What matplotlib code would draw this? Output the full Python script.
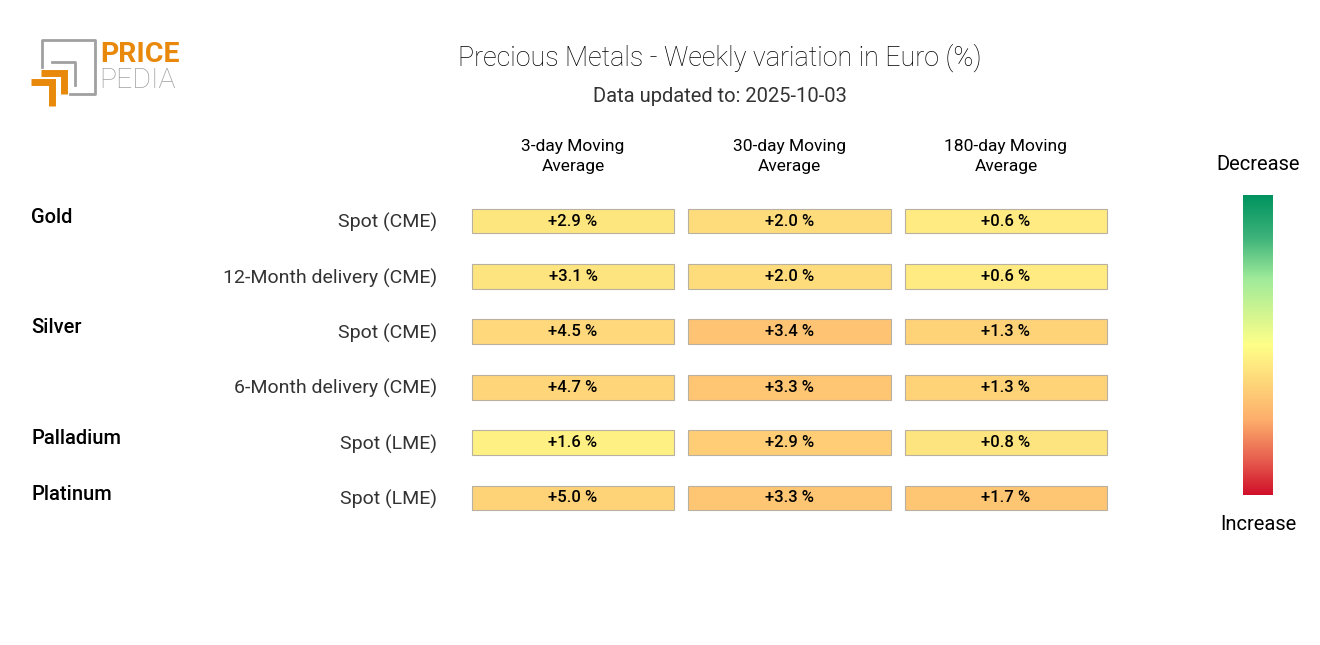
import matplotlib
matplotlib.use("Agg")
import matplotlib.pyplot as plt
import numpy as np
from matplotlib.colors import LinearSegmentedColormap
from matplotlib.patches import Rectangle

plt.rcParams['font.family'] = ['Roboto', 'DejaVu Sans']

# Data
groups = ['Gold', '', 'Silver', '', 'Palladium', 'Platinum']
series = ['Spot (CME)', '12-Month delivery (CME)', 'Spot (CME)',
          '6-Month delivery (CME)', 'Spot (LME)', 'Spot (LME)']
columns = ['3-day Moving\nAverage', '30-day Moving\nAverage', '180-day Moving\nAverage']
ma3 = [2.9, 3.1, 4.5, 4.7, 1.6, 5.0]
ma30 = [2.0, 2.0, 3.4, 3.3, 2.9, 3.3]
ma180 = [0.6, 0.6, 1.3, 1.3, 0.8, 1.7]
# colour scale limits per column (estimated)
color_limits = [18.6, 9.3, 4.8]

values = np.array([ma3, ma30, ma180]).T

# green (decrease) -> yellow -> red (increase)
cmap = LinearSegmentedColormap.from_list(
    'pp', [(0.0, '#d0102a'), (0.12, '#e86050'), (0.25, '#fdae6b'),
           (0.5, '#ffff88'), (0.72, '#a0eb9a'), (0.86, '#3db37a'),
           (1.0, '#00935f')])

fig = plt.figure(figsize=(13.2, 6.45), dpi=100)
ax = fig.add_axes([0.3521, 0.185, 0.492, 0.5153])
ax.set_xlim(-0.5, 2.5)
ax.set_ylim(5.5, -0.5)
ax.axis('off')

for i in range(values.shape[0]):
    for j in range(values.shape[1]):
        v = values[i, j]
        t = 0.5 - 0.5 * v / color_limits[j]
        ax.add_patch(Rectangle((j - 0.467, i - 0.225), 0.934, 0.45,
                               facecolor=cmap(t), edgecolor='#b8b0a0', lw=0.8))
        ax.text(j, i, f'{v:+.1f} %', ha='center', va='center',
                fontsize=12, color='black', fontweight='medium')
    ax.text(-0.628, i + 0.03, series[i], ha='right', va='center',
            fontsize=14, color='#333333', clip_on=False)
    if groups[i]:
        ax.text(-2.503, i - 0.07, groups[i], ha='left', va='center',
                fontsize=14.5, color='black', fontweight='medium', clip_on=False)

for j, c in enumerate(columns):
    ax.text(j, -1.17, c, ha='center', va='center', fontsize=12.5,
            linespacing=1.4, clip_on=False)

# titles
fig.text(720 / 1320, 1 - 58 / 645, 'Precious Metals - Weekly variation in Euro (%)',
         ha='center', va='center', fontsize=19.4, fontweight='light', color='black')
fig.text(720 / 1320, 1 - 97 / 645, 'Data updated to: 2025-10-03',
         ha='center', va='center', fontsize=14.5, color='#333333')

# colour bar
cax = fig.add_axes([1243 / 1320, 1 - 495 / 645, 30 / 1320, 300 / 645])
grad = np.linspace(1, 0, 256).reshape(-1, 1)
cax.imshow(grad, aspect='auto', cmap=cmap, vmin=0, vmax=1)
cax.axis('off')
fig.text(1258 / 1320, 1 - 165 / 645, 'Decrease', ha='center', va='center', fontsize=14.5)
fig.text(1258 / 1320, 1 - 525 / 645, 'Increase', ha='center', va='center', fontsize=14.5)

# logo
lax = fig.add_axes([0, 0, 1, 1], zorder=-1)
lax.set_xlim(0, 1320)
lax.set_ylim(645, 0)
lax.axis('off')
grey = '#a0a0a0'
orange = '#e8890c'
lax.plot([42, 42, 95, 95, 70], [67, 40, 40, 94, 94], color=grey, lw=2)
lax.plot([52, 75, 75], [62, 62, 85], color=grey, lw=2)
lax.plot([41, 64, 64], [73, 73, 94], color=orange, lw=5, solid_capstyle='butt',
         solid_joinstyle='miter')
lax.plot([31, 52, 52], [82, 82, 106], color=orange, lw=5, solid_capstyle='butt',
         solid_joinstyle='miter')
lax.text(100, 54, 'PRICE', ha='left', va='center', fontsize=20.5, fontweight='bold',
         color=orange)
lax.text(99, 80, 'PEDIA', ha='left', va='center', fontsize=20.5, fontweight='light',
         color=grey)

fig.savefig('out.png', dpi=100)
